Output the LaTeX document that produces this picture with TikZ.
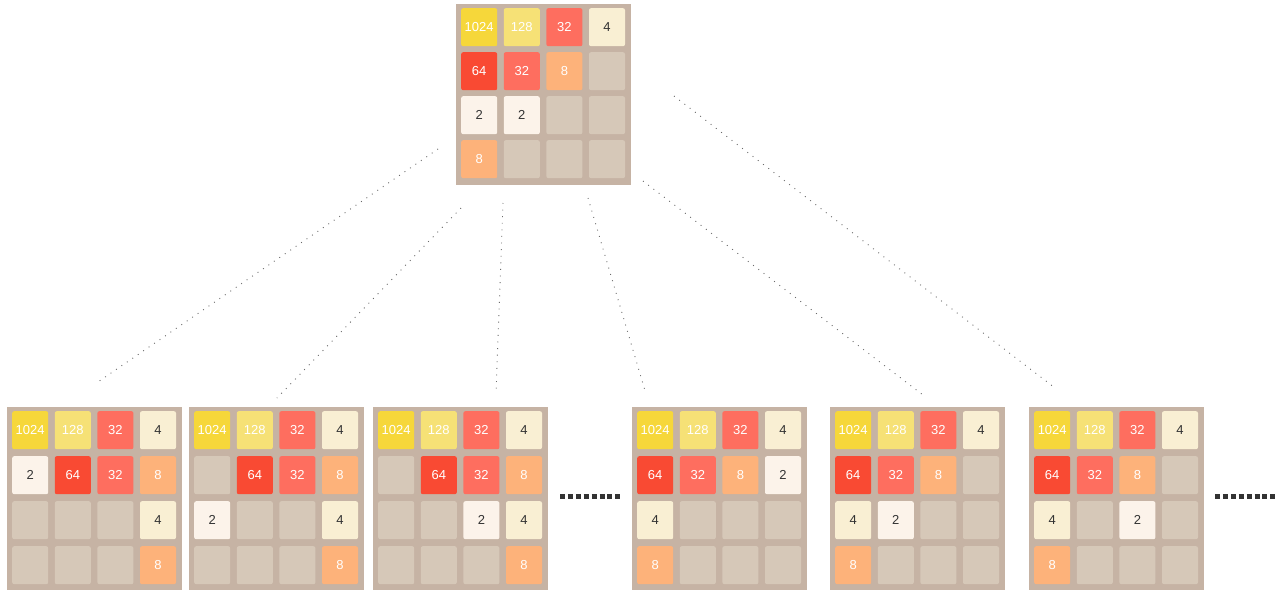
\documentclass[tikz,border=0pt]{standalone}
\usepackage{fontspec}
\setmainfont{Liberation Sans}
\definecolor{boardcol}{HTML}{C6B3A4}
\definecolor{emptycol}{HTML}{D6C8B8}
\definecolor{c2}{HTML}{FCF3EA}
\definecolor{c4}{HTML}{F9EFD3}
\definecolor{c8}{HTML}{FDB27A}
\definecolor{c32}{HTML}{FE6E5F}
\definecolor{c64}{HTML}{F94A33}
\definecolor{c128}{HTML}{F6E176}
\definecolor{c1024}{HTML}{F6D73A}
\definecolor{darktxt}{HTML}{333333}
\definecolor{linkcol}{HTML}{6A6A6A}
\tikzset{
  boardbg/.style={draw=none, fill=boardcol, minimum width=175pt, inner sep=0pt, anchor=north west},
  tile/.style={minimum width=36pt, minimum height=38pt, inner sep=0pt, rounded corners=2pt,
    anchor=north west, font=\fontsize{13}{13}\selectfont, text=white},
  t0/.style={fill=emptycol},
  t2/.style={fill=c2, text=darktxt},
  t4/.style={fill=c4, text=darktxt},
  t8/.style={fill=c8},
  t32/.style={fill=c32},
  t64/.style={fill=c64},
  t128/.style={fill=c128},
  t1024/.style={fill=c1024},
  link/.style={draw=linkcol, line width=0.9pt, dash pattern=on 0.9pt off 5.7pt},
  more/.style={draw=darktxt, line width=5pt, dash pattern=on 5pt off 2.9pt},
}
% #1 name, #2 x, #3 y, #4 row pitch, #5 board height, #6 values
\newcommand\drawboard[6]{%
  \node[boardbg, minimum height=#5pt] (#1) at (#2,#3) {};
  \foreach \v [count=\k from 0] in {#6} {
    \pgfmathtruncatemacro\tcol{mod(\k,4)}
    \pgfmathtruncatemacro\trow{\k/4}
    \node[tile, t\v] (#1-\k) at ({#2+5+42.6*\tcol},{#3+4+#4*\trow}) {\ifnum\v=0 \else\v\fi};
  }%
}
\begin{document}
\begin{tikzpicture}[x=1pt,y=-1pt]
  \useasboundingbox[fill=white] (0,0) rectangle (1288,590);
  \drawboard{top}{456}{4}{44}{181}{1024,128,32,4,64,32,8,0,2,2,0,0,8,0,0,0}
  \drawboard{b1}{7}{407}{45}{183}{1024,128,32,4,2,64,32,8,0,0,0,4,0,0,0,8}
  \drawboard{b2}{189}{407}{45}{183}{1024,128,32,4,0,64,32,8,2,0,0,4,0,0,0,8}
  \drawboard{b3}{373}{407}{45}{183}{1024,128,32,4,0,64,32,8,0,0,2,4,0,0,0,8}
  \drawboard{b4}{632}{407}{45}{183}{1024,128,32,4,64,32,8,2,4,0,0,0,8,0,0,0}
  \drawboard{b5}{830}{407}{45}{183}{1024,128,32,4,64,32,8,0,4,2,0,0,8,0,0,0}
  \drawboard{b6}{1029}{407}{45}{183}{1024,128,32,4,64,32,8,0,4,0,2,0,8,0,0,0}
  % connector end points
  \coordinate (s1) at (438,149);  \coordinate (e1) at (95,384);
  \coordinate (s2) at (461,208);  \coordinate (e2) at (277,398);
  \coordinate (s3) at (503,203);  \coordinate (e3) at (496,394);
  \coordinate (s4) at (588,198);  \coordinate (e4) at (646,394);
  \coordinate (s5) at (643,181);  \coordinate (e5) at (923,395);
  \coordinate (s6) at (674,96);   \coordinate (e6) at (1055,388);
  \foreach \i in {1,...,6} { \draw[link] (s\i) -- (e\i); }
  % ellipses
  \coordinate (m1a) at (560,496); \coordinate (m1b) at (621,496);
  \coordinate (m2a) at (1215,496); \coordinate (m2b) at (1276,496);
  \draw[more] (m1a) -- (m1b);
  \draw[more] (m2a) -- (m2b);
\end{tikzpicture}
\end{document}
